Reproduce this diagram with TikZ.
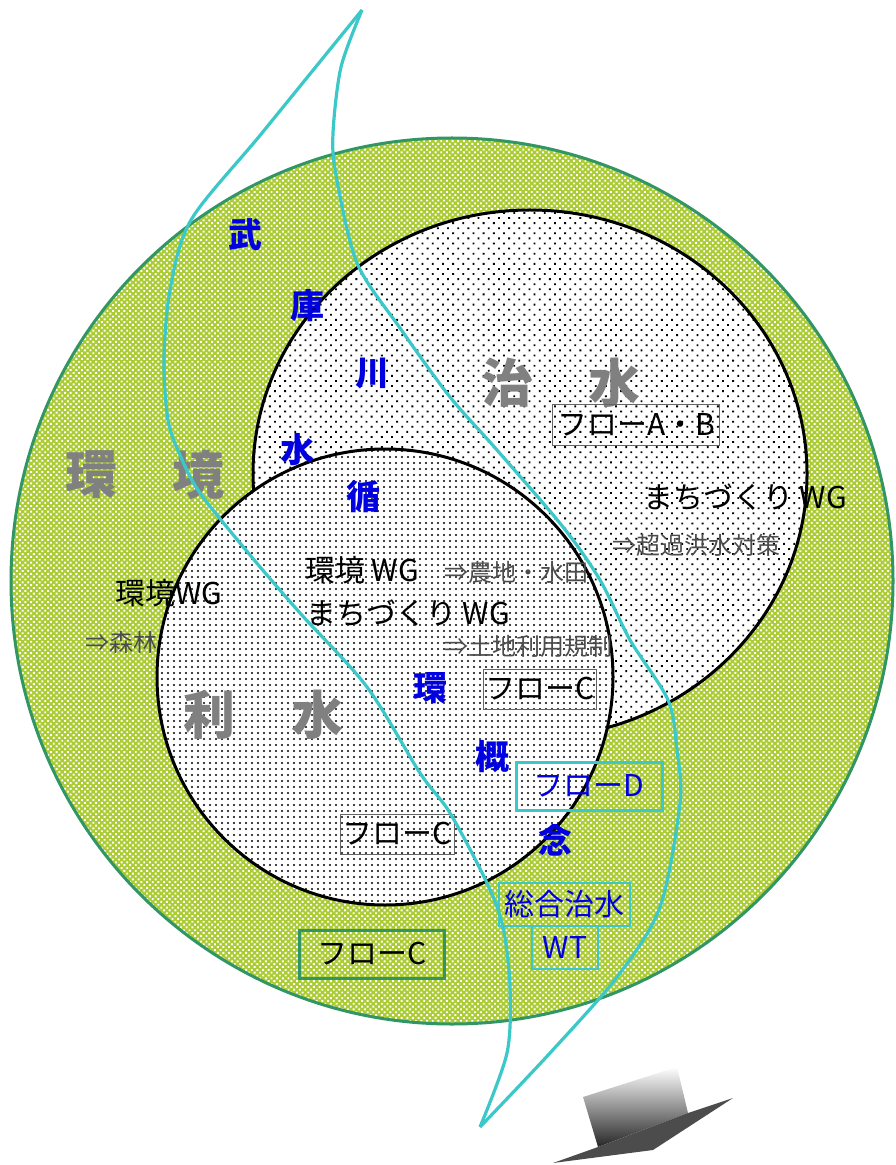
\documentclass[tikz,border=0pt]{standalone}
\usepackage{fontspec}
\setmainfont{Noto Sans CJK JP}
\usepackage{xcolor}
\usepackage{tikz}
\usetikzlibrary{patterns.meta}

\definecolor{ringgreen}{RGB}{50,150,100}
\definecolor{ringfill}{RGB}{170,203,50}
\definecolor{rivercyan}{RGB}{60,200,200}
\definecolor{markblue}{RGB}{0,0,225}
\definecolor{biggray}{RGB}{128,128,128}

\begin{document}
\begin{tikzpicture}[x=0.5pt, y=-0.5pt,
        bigchar/.style={text=biggray, font=\fontsize{26}{26}\selectfont\bfseries},
        wglabel/.style={font=\fontsize{15}{15}\selectfont},
        notelabel/.style={text=black!70, font=\fontsize{12}{12}\selectfont},
        markchar/.style={text=markblue, font=\fontsize{17}{17}\selectfont\bfseries},
        flowbox/.style={draw=black!60, line width=0.5pt, inner sep=0pt, font=\fontsize{15}{15}\selectfont},
        wtbox/.style={draw=rivercyan, line width=1pt, inner sep=0pt, text=markblue, font=\fontsize{15}{15}\selectfont},
        river/.style={rivercyan, line width=1.6pt}]
        \useasboundingbox (0,0) rectangle (895,1165);

        % Outer ring
        \path[fill=ringfill, postaction={pattern={Dots[angle=45, distance=2pt, radius=0.68pt]}, pattern color=white}]
            (452,581) circle [x radius=441, y radius=443];
        \draw[ringgreen, line width=1.5pt] (452,581) circle [x radius=441, y radius=443];

        % Upper and lower circles
        \path[fill=white, postaction={pattern={Dots[angle=45, distance=3.6pt, radius=0.65pt]}, pattern color=black}]
            (530,474) circle [x radius=277, y radius=264];
        \draw[line width=1.5pt] (530,474) circle [x radius=277, y radius=264];
        \path[fill=white, postaction={pattern={Dots[distance=3pt, radius=0.6pt]}, pattern color=black}]
            (385,677) circle [radius=228];
        \draw[line width=1.5pt] (385,677) circle [radius=228];

        % Gray headings
        \node[bigchar] (kan) at (91,475) {環};
        \node[bigchar] (kyo) at (198,475) {境};
        \node[bigchar] (chi) at (507,383) {治};
        \node[bigchar] (sui) at (614,383) {水};
        \node[bigchar] (ri) at (209,715) {利};
        \node[bigchar] (risui) at (317,715) {水};

        % Working groups
        \node[wglabel] (wgtown) at (745,497) {まちづくり WG};
        \node[notelabel] (flood) at (696,545) {⇒超過洪水対策};
        \node[wglabel] (wgenv) at (362,570) {環境 WG};
        \node[notelabel] (farm) at (516,572) {⇒農地・水田};
        \node[wglabel] (wgtown2) at (408,613) {まちづくり WG};
        \node[notelabel] (landuse) at (528,646) {⇒土地利用規制};
        \node[wglabel] (wgenv2) at (169,593) {環境WG};
        \node[notelabel] (forest) at (121,642) {⇒森林};

        % Flow boxes
        \node[flowbox, minimum width=83.5pt, minimum height=20pt] (flowab) at (636,425) {フローA・B};
        \node[flowbox, minimum width=56.5pt, minimum height=20pt] (flowc1) at (540,689) {フローC};
        \node[flowbox, minimum width=57pt, minimum height=20pt] (flowc2) at (397,834) {フローC};
        \node[flowbox, draw=ringgreen, line width=1.5pt, minimum width=72.5pt, minimum height=24pt] (flowc3) at (372,954) {フローC};
        \node[wtbox, line width=1.5pt, minimum width=73pt, minimum height=24pt] (flowd) at (589,786) {フローD};
        \node[wtbox, minimum width=65.5pt, minimum height=21.5pt] (sogo) at (564,904) {総合治水};
        \node[wtbox, minimum width=33pt, minimum height=21.5pt] (wt) at (565,947) {WT};

        % Blue characters along the river
        \foreach \ch/\x/\y [count=\i] in {武/245/235, 庫/307/306, 川/372/374, 水/297/450, 循/363/497, 環/430/688, 概/492/757, 念/555/840} {
                \node[markchar] (mark\i) at (\x,\y) {\ch};
            }

        % River
        \draw[river] plot[smooth] coordinates {(362,10) (262,133) (191,220) (170,290) (164,360) (168,420) (180,455) (200,493) (250,555) (300,613) (367,687) (420,773) (450,813) (487,883) (503,927) (510,987) (507,1053) (480,1127)};
        \draw[river] plot[smooth] coordinates {(362,10) (341,67) (333,133) (336,175) (357,263) (400,328) (450,397) (497,450) (563,527) (600,580) (630,640) (668,700) (677,750) (680,803) (660,907) (617,977) (550,1053) (480,1127)};

        % Shaded arrow
        \shade[top color=white, bottom color=black!85] (583,1097) -- (677,1067) -- (688,1113) -- (598,1147) -- cycle;
        \fill[black!70] (553,1163) -- (598,1147) -- (688,1113) -- (733,1098) -- (653,1150) -- cycle;

    \end{tikzpicture}
\end{document}
